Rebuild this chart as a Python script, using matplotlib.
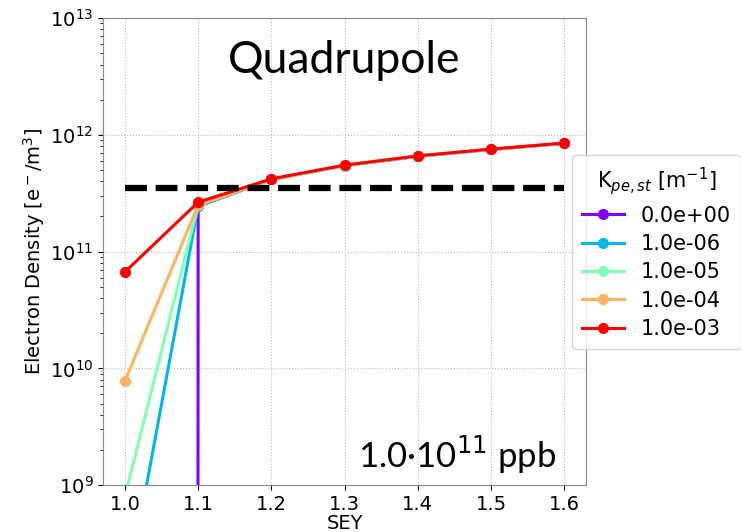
import matplotlib
matplotlib.use("Agg")
import matplotlib.pyplot as plt
import numpy as np

# SEY scan, electron density for each K_pe,st
sey = [1.0, 1.1, 1.2, 1.3, 1.4, 1.5, 1.6]
k_labels = ["0.0e+00", "1.0e-06", "1.0e-05", "1.0e-04", "1.0e-03"]
dens_k0 = [0.0, 2.45e11, 4.15e11, 5.45e11, 6.55e11, 7.5e11, 8.45e11]
dens_k6 = [1.0e8, 2.45e11, 4.15e11, 5.45e11, 6.55e11, 7.5e11, 8.45e11]
dens_k5 = [8.0e8, 2.5e11, 4.15e11, 5.45e11, 6.55e11, 7.5e11, 8.45e11]
dens_k4 = [7.8e9, 2.5e11, 4.15e11, 5.5e11, 6.6e11, 7.55e11, 8.5e11]
dens_k3 = [6.7e10, 2.65e11, 4.2e11, 5.5e11, 6.6e11, 7.55e11, 8.5e11]
threshold = 3.5e11

series = [dens_k0, dens_k6, dens_k5, dens_k4, dens_k3]
colors = plt.cm.rainbow(np.linspace(0, 1, len(series)))

fig = plt.figure(figsize=(7.41, 5.32), dpi=100)
ax = fig.add_axes([0.139, 0.088, 0.652, 0.878])

for y, c, lab in zip(series, colors, k_labels):
    ax.plot(sey, y, "-o", color=c, lw=2.2, ms=7, label=lab)

ax.plot([sey[0], sey[-1]], [threshold, threshold], "k--", lw=4.5, dashes=(3.5, 1.4))

ax.set_yscale("log")
ax.set_ylim(1e9, 1e13)
ax.set_xlim(0.97, 1.63)
ax.set_xticks(sey)
ax.grid(True, which="major", ls=":", color="#bbbbbb")
ax.tick_params(labelsize=14)
for s in ax.spines.values():
    s.set_color("#888888")
ax.set_xlabel("SEY", fontsize=14, labelpad=0)
ax.set_ylabel("Electron Density [e$^-$/m$^3$]", fontsize=14, labelpad=2)

ax.text(0.5, 0.91, "Quadrupole", transform=ax.transAxes, ha="center", va="center",
        fontsize=32, family="Lato")
ax.text(0.937, 0.065, "1.0·10$^{11}$ ppb", transform=ax.transAxes, ha="right", va="center",
        fontsize=25, family="Lato")

leg = ax.legend(title="K$_{pe,st}$ [m$^{-1}$]", loc="upper left",
                bbox_to_anchor=(0.97, 0.707), borderaxespad=0, fontsize=15, title_fontsize=15,
                handlelength=2.0, borderpad=0.5, labelspacing=0.4)

fig.savefig("out.png", dpi=100)
